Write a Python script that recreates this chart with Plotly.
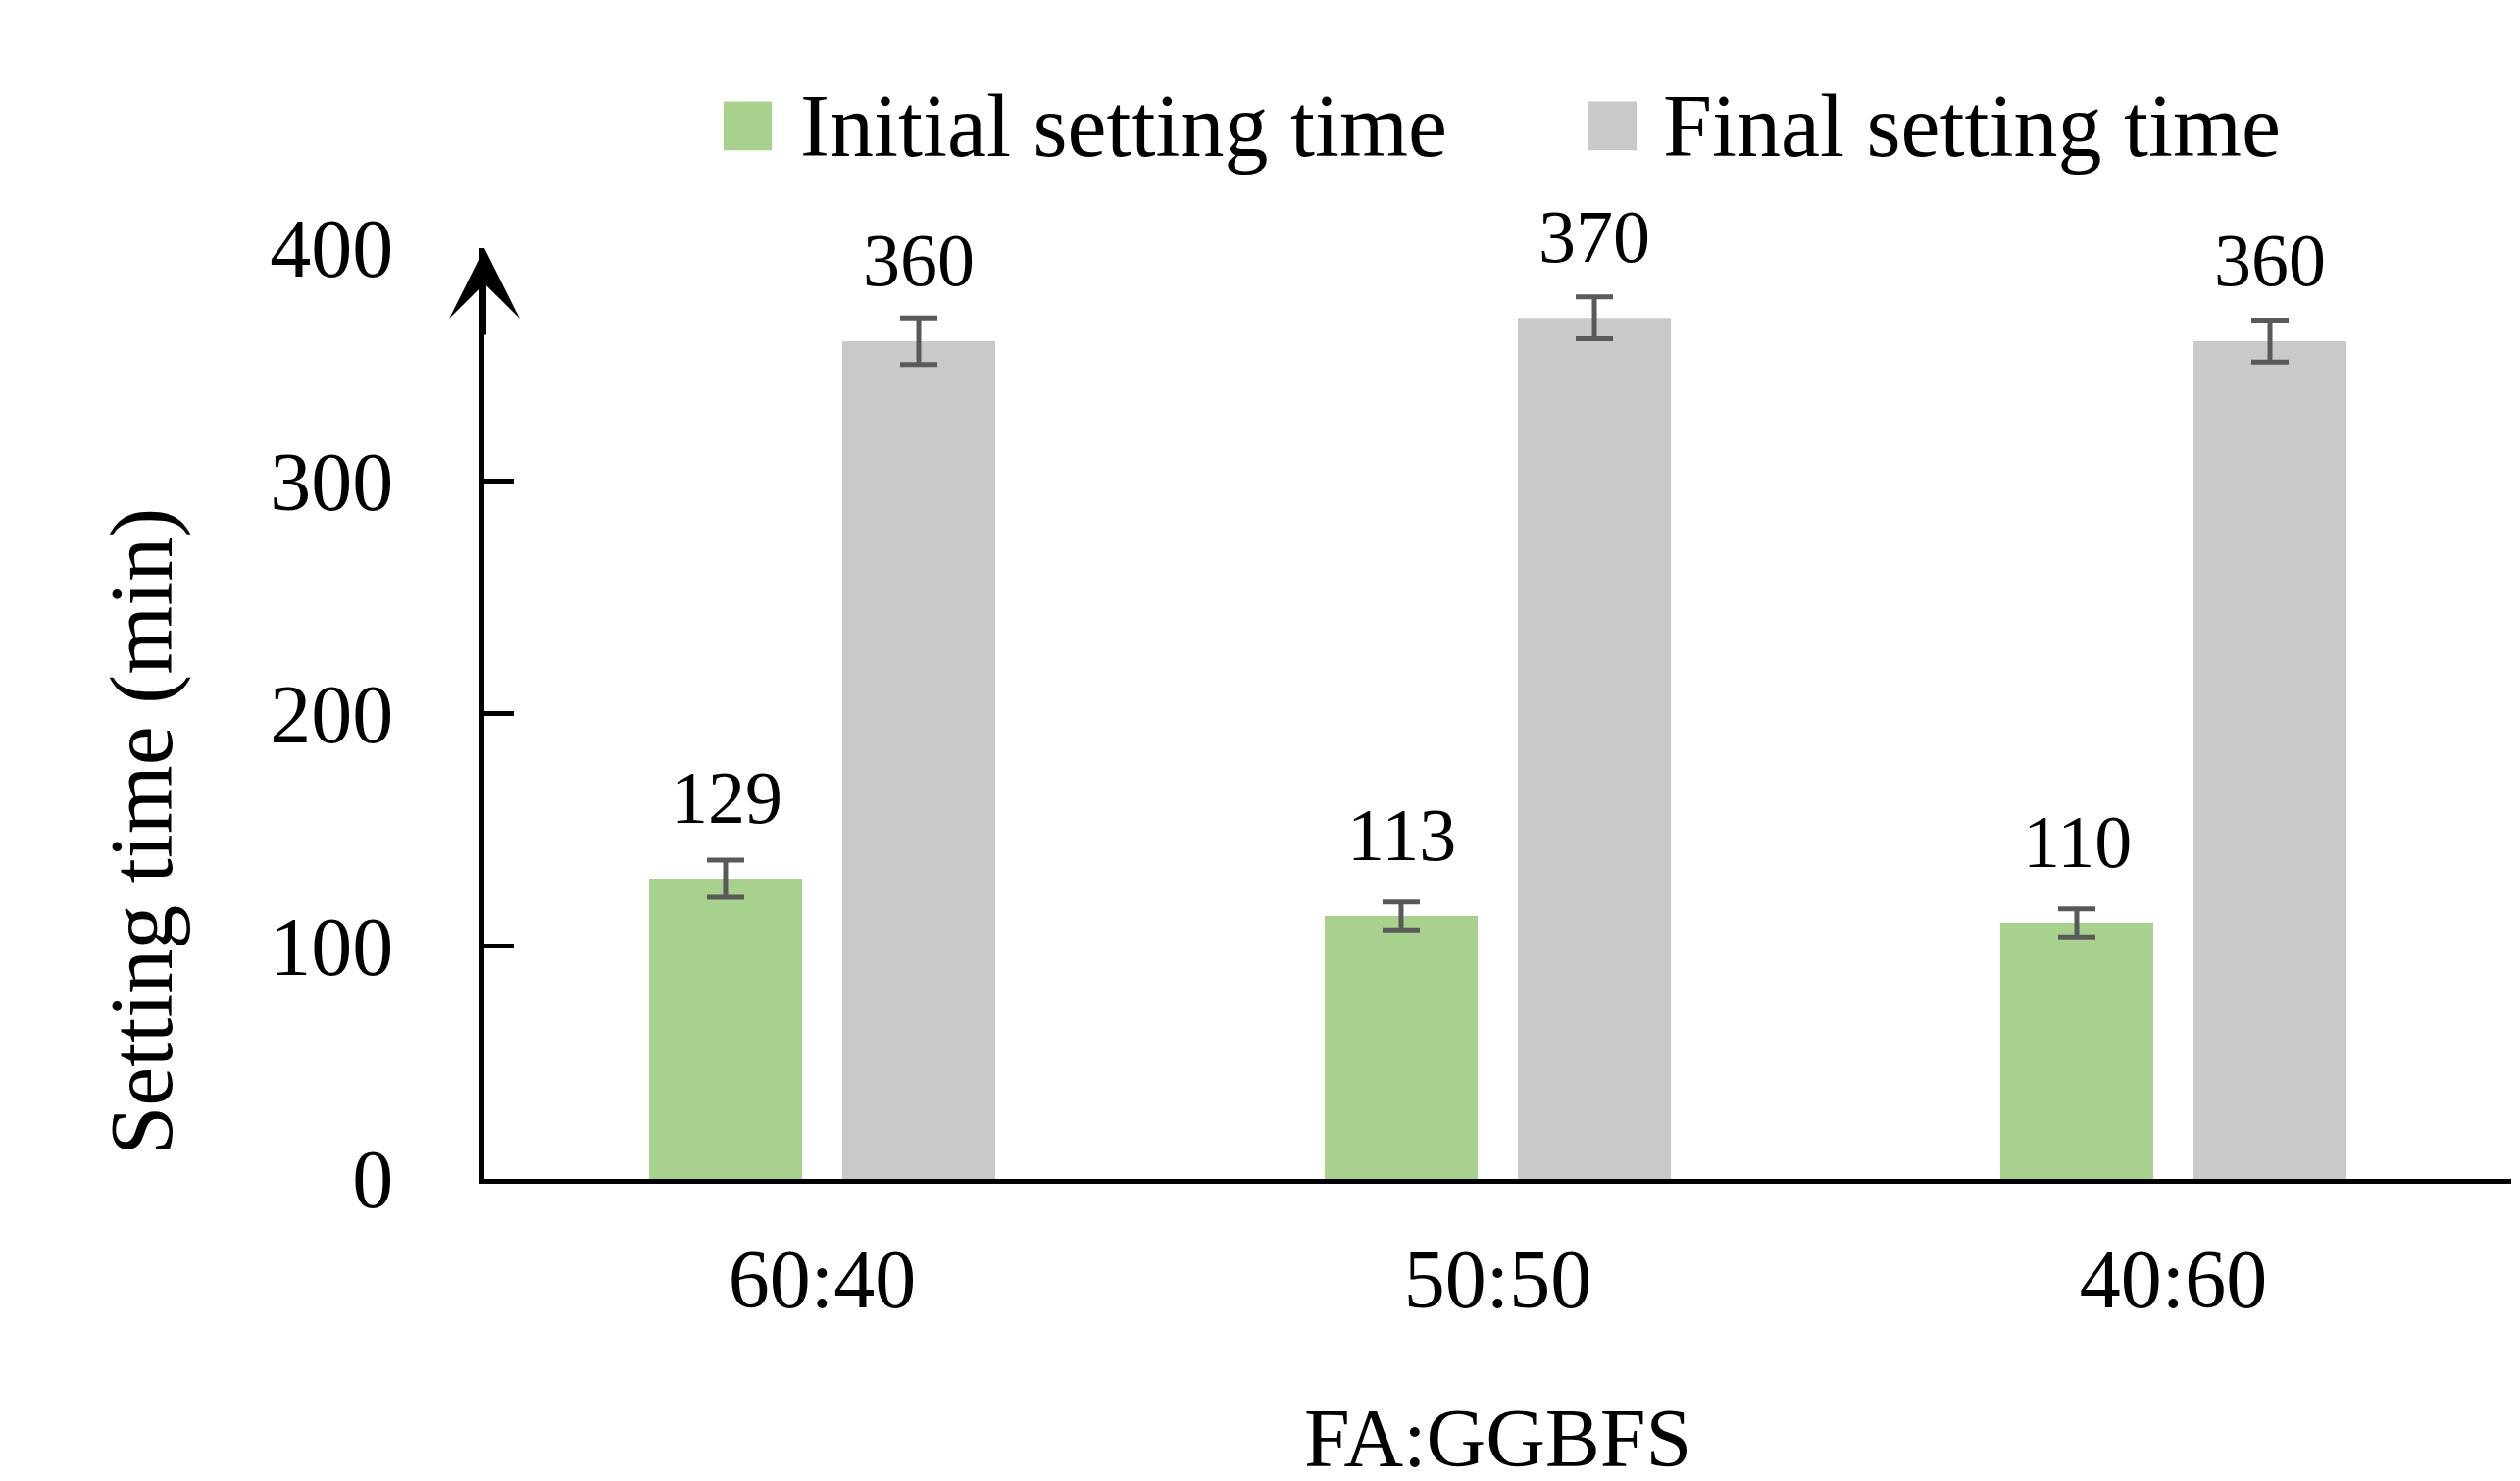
import plotly.graph_objects as go

# values
ratios = ["60:40", "50:50", "40:60"]
initial_time = [129, 113, 110]
initial_err = [8, 6, 6]
final_time = [360, 370, 360]
final_err = [10, 9, 9]
y_ticks = [0, 100, 200, 300, 400]

green = "#A9D18E"
grey = "#C9C9C9"
err_col = "#595959"
font_name = "Liberation Serif"

fig = go.Figure()
fig.add_trace(go.Bar(x=ratios, y=initial_time, name="Initial setting time",
                     marker=dict(color=green, line=dict(width=0)),
                     error_y=dict(type="data", array=initial_err, color=err_col,
                                  thickness=5, width=19),
                     showlegend=False))
fig.add_trace(go.Bar(x=ratios, y=final_time, name="Final setting time",
                     marker=dict(color=grey, line=dict(width=0)),
                     error_y=dict(type="data", array=final_err, color=err_col,
                                  thickness=5, width=19),
                     showlegend=False))

# value labels above the bars (excel style: outside end)
for vals, shift in [(initial_time, -98), (final_time, 98)]:
    for r, v in zip(ratios, vals):
        fig.add_annotation(x=r, y=v, xref="x", yref="y", text=str(v),
                           showarrow=False, xshift=shift, yshift=83,
                           yanchor="middle",
                           font=dict(family=font_name, size=76, color="black"))

# arrow head on top of y axis
fig.add_annotation(x=0, y=400, xref="paper", yref="y", text="", showarrow=True,
                   ax=0, ay=90, arrowhead=3, arrowwidth=4, arrowsize=3.0,
                   arrowcolor="black", standoff=0)

# axis titles
fig.add_annotation(x=-0.169, y=0.373, xref="paper", yref="paper",
                   text="Setting time (min)", textangle=-90, showarrow=False,
                   xanchor="center", yanchor="middle",
                   font=dict(family=font_name, size=90, color="black"))
fig.add_annotation(x=0.5, y=-0.279, xref="paper", yref="paper",
                   text="FA:GGBFS", showarrow=False,
                   xanchor="center", yanchor="middle",
                   font=dict(family=font_name, size=84, color="black"))

# hand made legend (big squares like the original)
legend_items = [("Initial setting time", green, 0.118, 0.1418, 0.1548),
                ("Final setting time", grey, 0.5448, 0.5685, 0.5806)]
for label, col, x0, x1, xt in legend_items:
    fig.add_shape(type="rect", xref="paper", yref="paper", x0=x0, x1=x1,
                  y0=1.105, y1=1.1576, fillcolor=col, line=dict(width=0))
    fig.add_annotation(x=xt, y=1.1313, xref="paper", yref="paper", text=label,
                       showarrow=False, xanchor="left", yanchor="middle",
                       font=dict(family=font_name, size=90, color="black"))

fig.update_layout(
    width=2570, height=1510,
    margin=dict(l=486, r=17, t=245, b=316),
    plot_bgcolor="white", paper_bgcolor="white",
    barmode="group", bargap=0.428, bargroupgap=0.208,
    font=dict(family=font_name, size=84, color="black"),
)
fig.update_xaxes(showline=True, linewidth=5, linecolor="black", ticks="",
                 showgrid=False, ticklabelstandoff=25,
                 tickfont=dict(family=font_name, size=84))
fig.update_yaxes(range=[0, 400], tickvals=y_ticks, showline=True, linewidth=6,
                 linecolor="black", ticks="inside", ticklen=30, tickwidth=5,
                 tickcolor="black", showgrid=False, zeroline=False,
                 ticklabelstandoff=70,
                 tickfont=dict(family=font_name, size=84))

fig.write_html("out.html")
